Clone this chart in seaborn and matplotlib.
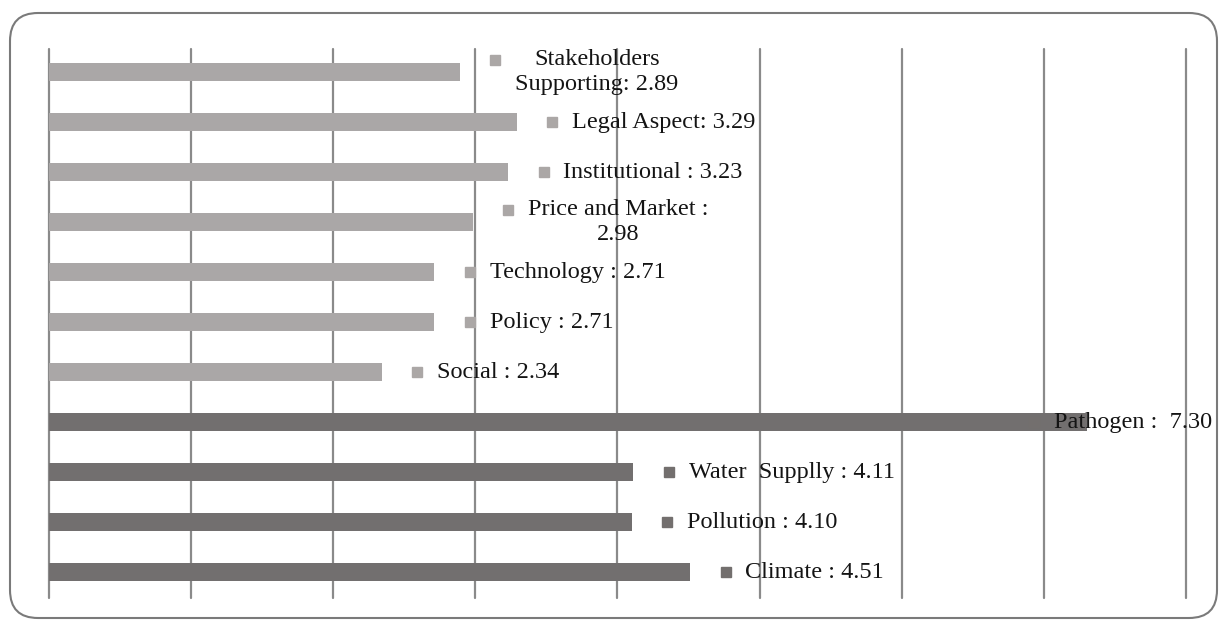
import seaborn as sns
import matplotlib.pyplot as plt
import pandas as pd
from matplotlib.patches import FancyBboxPatch
from matplotlib.transforms import IdentityTransform

# values, top bar first
factors = ['Stakeholders Supporting', 'Legal Aspect', 'Institutional', 'Price and Market',
           'Technology', 'Policy', 'Social', 'Pathogen', 'Water Supplly', 'Pollution', 'Climate']
scores = [2.89, 3.29, 3.23, 2.98, 2.71, 2.71, 2.34, 7.30, 4.11, 4.10, 4.51]
groups = ['non-technical', 'non-technical', 'non-technical', 'non-technical',
          'non-technical', 'non-technical', 'non-technical',
          'technical', 'technical', 'technical', 'technical']
label_text = ['Stakeholders\nSupporting: 2.89', 'Legal Aspect: 3.29', 'Institutional : 3.23',
              'Price and Market :\n2.98', 'Technology : 2.71', 'Policy : 2.71', 'Social : 2.34',
              'Pathogen :  7.30', 'Water  Supplly : 4.11', 'Pollution : 4.10', 'Climate : 4.51']

colors = {'non-technical': '#aba7a6', 'technical': '#736f6e'}

sns.set_theme(style='white')
plt.rcParams['font.family'] = ['Liberation Serif', 'DejaVu Serif']

W, H = 1220, 623
fig = plt.figure(figsize=(W / 100, H / 100), dpi=100)
fig.patch.set_facecolor('white')
ax = fig.add_axes([49 / W, 1 - 598 / H, (1186 - 49) / W, (598 - 49) / H])

df = pd.DataFrame({'factor': factors, 'score': scores, 'group': groups})
sns.barplot(data=df, x='score', y='factor', hue='group', palette=colors,
            dodge=False, width=0.36, legend=False, edgecolor='none', linewidth=0, ax=ax)

ax.set_xlim(0, 8)
ax.set_xticks(range(9))
ax.set_ylim(10.52, -0.46)
ax.grid(axis='x', color='#8a8a8a', lw=1.6)
ax.grid(axis='y', visible=False)
ax.set_axisbelow(True)
for gl in ax.get_xgridlines():
    gl.set_clip_on(False)
ax.tick_params(length=0, labelbottom=False, labelleft=False)
ax.set_xlabel('')
ax.set_ylabel('')
for s in ax.spines.values():
    s.set_visible(False)

# data labels with small square keys, like the office chart
for i, (v, txt, g) in enumerate(zip(scores, label_text, groups)):
    col = colors[g]
    if v == max(scores):
        mx = v - 0.37
    else:
        mx = v + 0.25
    nl = txt.count('\n')
    ax.plot(mx, i - 0.24 * nl, marker='s', ms=7.5, color=col, clip_on=False)
    ax.text(mx + 0.14, i, txt, ha='left', va='center', multialignment='center',
            fontsize=17.5, color='#141414')

frame = FancyBboxPatch((10, 5), 1207, 605, boxstyle='round,pad=0,rounding_size=28',
                       transform=IdentityTransform(), fill=False, ec='#7a7a7a', lw=1.5)
fig.add_artist(frame)

fig.savefig('out.png', dpi=100)
